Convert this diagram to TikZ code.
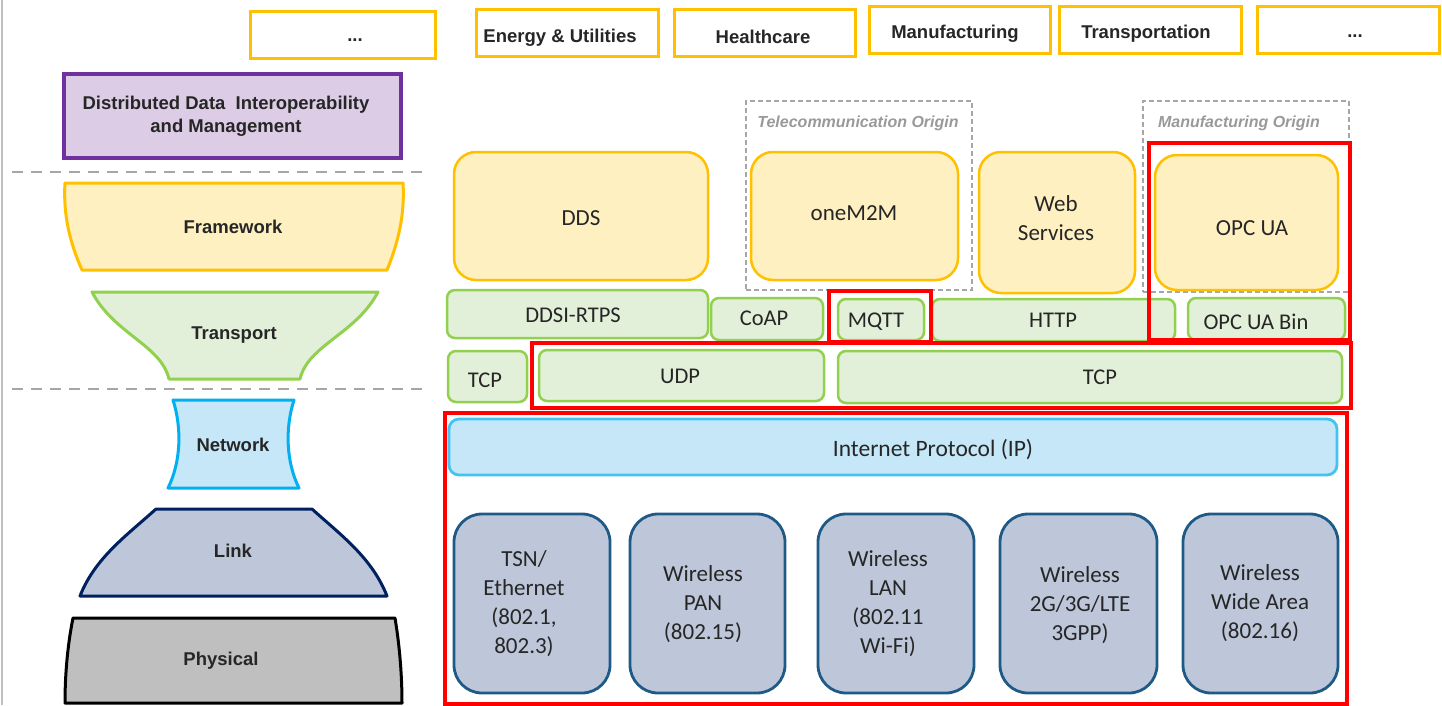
\documentclass[tikz,border=0pt]{standalone}
\usepackage{fontspec}
\setmainfont{Carlito}
\newfontfamily\arialf{Liberation Sans}
\usetikzlibrary{fit}
\definecolor{gold}{HTML}{FFC000}
\definecolor{lightyel}{HTML}{FFF0C2}
\definecolor{grn}{HTML}{92D050}
\definecolor{lightgrn}{HTML}{E2EFD9}
\definecolor{cyanb}{HTML}{00B0F0}
\definecolor{lightcyan}{HTML}{C5E7F8}
\definecolor{ipborder}{HTML}{45C3F0}
\definecolor{navy}{HTML}{002060}
\definecolor{linkfill}{HTML}{BDC7D9}
\definecolor{tealb}{HTML}{1F5A87}
\definecolor{phyfill}{HTML}{BFBFBF}
\definecolor{purp}{HTML}{7030A0}
\definecolor{lightpurp}{HTML}{DCCCE6}
\definecolor{dashgray}{HTML}{A6A6A6}
\definecolor{dtext}{HTML}{262626}
\definecolor{origintext}{HTML}{999999}
\begin{document}
\begin{tikzpicture}[x=1pt,y=-1pt,
  ind/.style={draw=gold, line width=3pt, fill=white, inner sep=0pt},
  indlbl/.style={font=\arialf\bfseries\fontsize{18.5}{22}\selectfont, text=dtext},
  lbl/.style={font=\arialf\bfseries\fontsize{18.5}{22}\selectfont, text=dtext, align=center},
  fwbox/.style={draw=gold, fill=lightyel, line width=2.5pt, rounded corners=22pt, inner sep=0pt, font=\fontsize{23}{29}\selectfont, align=center, text=dtext},
  tpbox/.style={draw=grn, fill=lightgrn, line width=2.5pt, rounded corners=8pt, inner sep=0pt, font=\fontsize{22}{26}\selectfont, text=dtext},
  tplbl/.style={font=\fontsize{22.5}{26}\selectfont, text=dtext},
  redbox/.style={draw=red, line width=3.5pt, inner sep=0pt},
  phybox/.style={draw=tealb, fill=linkfill, line width=2.8pt, rounded corners=28pt, inner sep=0pt},
  phylbl/.style={font=\fontsize{23}{29}\selectfont, align=center, text=dtext},
  originbox/.style={draw=dashgray, line width=1.5pt, dash pattern=on 5pt off 3pt, inner sep=0pt},
  originlbl/.style={font=\arialf\bfseries\itshape\fontsize{16}{19}\selectfont, text=origintext},
  sep/.style={draw=dashgray, line width=2.5pt, dash pattern=on 11pt off 8pt}
]
\useasboundingbox (0,0) rectangle (1442,705);
% left border line
\coordinate (lt) at (2,0); \coordinate (lb) at (2,705);
\draw[draw=black!25, line width=1.5pt] (lt) -- (lb);

% industry boxes
\node[ind, fit={(250,11) (435,58)}] (i1) {};
\node[indlbl] (i1t) at (355,40) {...};
\node[ind, fit={(476,9) (658,56)}] (i2) {};
\node[indlbl] (i2t) at (560,38) {Energy \& Utilities};
\node[ind, fit={(674,9) (855,56)}] (i3) {};
\node[indlbl] (i3t) at (763,37) {Healthcare};
\node[ind, fit={(869,6) (1050,53)}] (i4) {};
\node[indlbl] (i4t) at (955,34) {Manufacturing};
\node[ind, fit={(1059,6) (1241,53)}] (i5) {};
\node[indlbl] (i5t) at (1146,34) {Transportation};
\node[ind, fit={(1257,6) (1439,53)}] (i6) {};
\node[indlbl] (i6t) at (1355,36) {...};

% purple box
\node[draw=purp, fill=lightpurp, line width=3.5pt, inner sep=0pt, fit={(64,74) (401,158)}] (dd) {};
\node[lbl] (ddt) at (226,116) {Distributed Data\ \ Interoperability\\[1pt]and Management};

% separators
\coordinate (s1a) at (12,172); \coordinate (s1b) at (428,172);
\coordinate (s2a) at (12,389); \coordinate (s2b) at (428,389);
\draw[sep] (s1a) -- (s1b);
\draw[sep] (s2a) -- (s2b);

% left stack shapes
\draw[draw=gold, fill=lightyel, line width=3pt, line join=round]
  (65,183) .. controls (63,215) and (70,243) .. (82,270) -- (387,270)
  .. controls (398,243) and (405,215) .. (403,183) -- cycle;
\node[lbl] (fwl) at (233,227) {Framework};

\draw[draw=grn, fill=lightgrn, line width=3pt, line join=round]
  (92,292) -- (378,292) .. controls (356,334) and (308,345) .. (300,379)
  -- (169,379) .. controls (161,345) and (114,334) .. (92,292) -- cycle;
\node[lbl] (tpl) at (234,335) {Transport};

\draw[draw=cyanb, fill=lightcyan, line width=3pt, line join=round]
  (173,400) -- (294,400) .. controls (285,428) and (286,462) .. (299,488)
  -- (168,488) .. controls (181,462) and (182,428) .. (173,400) -- cycle;
\node[lbl] (nwl) at (233,445) {Network};

\draw[draw=navy, fill=linkfill, line width=3pt, line join=round]
  (156,509) -- (312,509) .. controls (342,536) and (372,558) .. (387,596)
  -- (80,596) .. controls (95,558) and (126,536) .. (156,509) -- cycle;
\node[lbl] (lkl) at (233,551) {Link};

\draw[draw=black, fill=phyfill, line width=3pt, line join=round]
  (73,618) -- (395,618) .. controls (400,648) and (402,678) .. (402,703)
  -- (65,703) .. controls (65,678) and (67,648) .. (73,618) -- cycle;
\node[lbl] (phl) at (221,661) {Physical};

% origin dashed boxes
\node[originbox, fit={(746,101) (972,290)}] (tel) {};
\node[originlbl] (telt) at (858,123) {Telecommunication Origin};
\node[originbox, fit={(1143,101) (1349,292)}] (man) {};
\node[originlbl] (mant) at (1239,123) {Manufacturing Origin};

% framework boxes
\node[fwbox, fit={(454,152) (708,280)}] (dds) {};
\node[phylbl] (ddst) at (581,218) {DDS};
\node[fwbox, fit={(751,152) (958,280)}] (m2m) {};
\node[phylbl] (m2mt) at (854,213) {oneM2M};
\node[fwbox, fit={(979,152) (1135,293)}] (web) {};
\node[phylbl] (webt) at (1056,218) {Web\\Services};
\node[fwbox, fit={(1155,155) (1338,290)}] (opc) {};
\node[phylbl] (opct) at (1252,228) {OPC UA};

% transport boxes
\node[tpbox, fit={(447,290) (708,338)}] (rtps) {};
\node[tplbl] (rtpst) at (573,315) {DDSI-RTPS};
\node[tpbox, fit={(711,298) (823,340)}] (coap) {};
\node[tplbl] (coapt) at (764,318) {CoAP};
\node[tpbox, fit={(838,299) (924,340)}] (mqtt) {};
\node[tplbl] (mqttt) at (876,322) {MQTT};
\node[tpbox, fit={(932,299) (1175,341)}] (http) {};
\node[tplbl] (httpt) at (1053,320) {HTTP};
\node[tpbox, fit={(1188,298) (1345,340)}] (opcbin) {};
\node[tplbl] (opcbint) at (1256,322) {OPC UA Bin};
\node[tpbox, fit={(448,351) (527,402)}] (tcp1) {};
\node[tplbl] (tcp1t) at (485,380) {TCP};
\node[tpbox, fit={(539,350) (824,401)}] (udp) {};
\node[tplbl] (udpt) at (680,376) {UDP};
\node[tpbox, fit={(838,351) (1342,403)}] (tcp2) {};
\node[tplbl] (tcp2t) at (1100,377) {TCP};

% IP box
\node[draw=ipborder, fill=lightcyan, line width=2.8pt, rounded corners=10pt, inner sep=0pt, fit={(449,419) (1337,475)}] (ip) {};
\node[font=\fontsize{23.5}{28}\selectfont, text=dtext] (ipt) at (933,450) {Internet Protocol (IP)};

% link/phy boxes
\node[phybox, fit={(454,514) (610,693)}] (tsn) {};
\node[phylbl] (tsnt) at (524,604) {TSN/\\Ethernet\\(802.1,\\802.3)};
\node[phybox, fit={(630,514) (785,693)}] (pan) {};
\node[phylbl] (pant) at (703,604) {Wireless\\PAN\\(802.15)};
\node[phybox, fit={(818,514) (974,693)}] (lan) {};
\node[phylbl] (lant) at (888,604) {Wireless\\LAN\\(802.11\\Wi-Fi)};
\node[phybox, fit={(1000,514) (1157,693)}] (cell) {};
\node[phylbl] (cellt) at (1080,605) {Wireless\\2G/3G/LTE\\3GPP)};
\node[phybox, fit={(1183,514) (1338,693)}] (wan) {};
\node[phylbl] (want) at (1260,603) {Wireless\\Wide Area\\(802.16)};

% red highlight boxes
\node[redbox, fit={(1149,143) (1350,340)}] (r1) {};
\node[redbox, fit={(829,291) (931,342)}] (r2) {};
\node[redbox, fit={(532,343) (1351,408)}] (r3) {};
\node[redbox, fit={(445,413) (1347,704)}] (r4) {};
\end{tikzpicture}
\end{document}
